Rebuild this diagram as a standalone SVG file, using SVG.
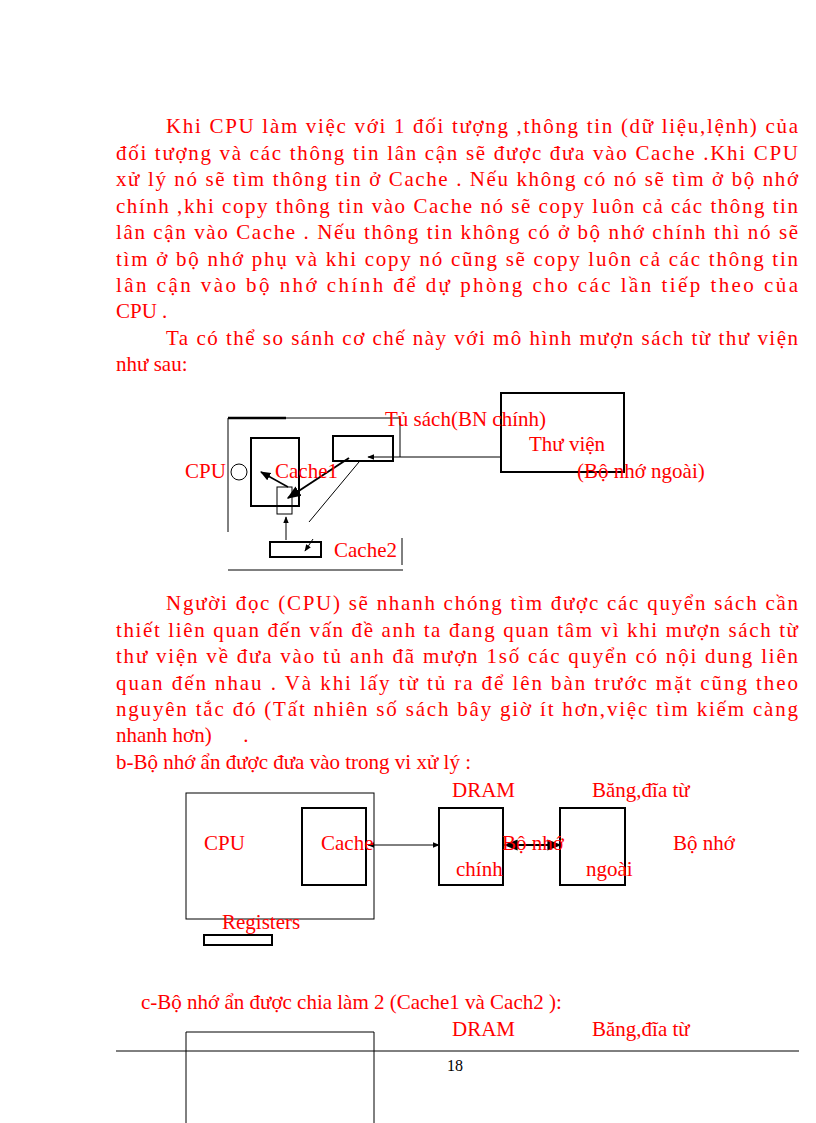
<svg xmlns="http://www.w3.org/2000/svg" width="816" height="1123" viewBox="0 0 816 1123">
<style>
text{font-family:"Liberation Serif","DejaVu Serif",serif;font-size:21px;fill:#f00}
.j{}
.b{fill:none;stroke:#000;stroke-width:2}
.t{fill:none;stroke:#000;stroke-width:1}
</style>
<defs><marker id="a" viewBox="0 0 10 10" refX="9" refY="5" markerWidth="7" markerHeight="7" orient="auto"><path d="M0,1L10,5L0,9z" fill="#000"/></marker>
<marker id="s" viewBox="0 0 10 10" refX="1" refY="5" markerWidth="7" markerHeight="7" orient="auto"><path d="M10,1L0,5L10,9z" fill="#000"/></marker></defs>
<g id="para1">
<text x="166" y="133" textLength="632" lengthAdjust="spacing">Khi CPU làm việc với 1 đối tượng ,thông tin (dữ liệu,lệnh) của</text>
<text x="116" y="160" textLength="682" lengthAdjust="spacing">đối tượng và các  thông tin lân cận sẽ được đưa vào Cache .Khi CPU</text>
<text x="116" y="186" textLength="682" lengthAdjust="spacing">xử lý nó sẽ tìm thông tin ở  Cache . Nếu không có nó sẽ tìm ở bộ nhớ</text>
<text x="116" y="213" textLength="682" lengthAdjust="spacing">chính ,khi copy thông tin vào Cache nó sẽ copy luôn cả các thông tin</text>
<text x="116" y="239" textLength="682" lengthAdjust="spacing">lân cận vào Cache . Nếu thông tin không có ở bộ nhớ chính thì nó sẽ</text>
<text x="116" y="266" textLength="682" lengthAdjust="spacing">tìm ở bộ nhớ phụ và khi copy nó cũng sẽ copy luôn cả các thông tin</text>
<text x="116" y="292" textLength="682" lengthAdjust="spacing">lân  cận vào bộ nhớ chính để dự phòng cho các lần tiếp theo của</text>
<text x="116" y="318">CPU .</text>
<text x="166" y="345" textLength="632" lengthAdjust="spacing">Ta có thể so sánh cơ chế này với mô hình mượn sách từ thư viện</text>
<text x="116" y="371">như sau:</text>
</g>
<g id="diagram1">
<g id="frame"><path class="t" d="M228,418H400V457M228,418V532M228,570H403M402,538V565"/><path d="M228,418H286" stroke="#000" stroke-width="2.5"/></g>
<rect id="cpu1" class="b" x="251" y="438" width="48" height="68"/>
<ellipse id="circle" class="t" cx="239" cy="472" rx="8" ry="8" stroke-width="1.5"/>
<rect id="cache1" class="t" x="277" y="487" width="15" height="27"/>
<rect id="tusach" class="b" x="333" y="436" width="60" height="25"/>
<rect id="thuvien" class="b" x="501" y="393" width="123" height="79"/>
<rect id="cache2" class="b" x="270" y="542" width="51" height="15"/>
<g id="connectors1">
<line class="t" x1="501" y1="457" x2="368" y2="457" marker-end="url(#a)"/>
<line x1="349" y1="458" x2="288" y2="498" stroke="#000" stroke-width="2" marker-end="url(#a)"/>
<line x1="288" y1="487" x2="261" y2="472" stroke="#000" stroke-width="1.5" marker-end="url(#a)"/>
<line class="t" x1="359" y1="462" x2="309" y2="522"/>
<line class="t" x1="286" y1="540" x2="286" y2="517" marker-end="url(#a)"/>
<line class="t" x1="313" y1="539" x2="305" y2="551" marker-end="url(#a)"/>
</g>
<text x="385" y="426">Tủ sách(BN chính)</text>
<text x="529" y="451">Thư viện</text>
<text x="185" y="478">CPU</text>
<text x="275" y="478">Cache1</text>
<text x="577" y="478">(Bộ nhớ ngoài)</text>
<text x="334" y="557">Cache2</text>
</g>
<g id="para2">
<text x="166" y="610" textLength="632" lengthAdjust="spacing">Người đọc (CPU) sẽ nhanh chóng tìm được các quyển sách cần</text>
<text x="116" y="637" textLength="682" lengthAdjust="spacing">thiết liên quan đến vấn đề  anh ta đang quan tâm vì khi mượn sách từ</text>
<text x="116" y="663" textLength="682" lengthAdjust="spacing">thư viện về đưa vào tủ anh đã mượn 1số các quyển có nội dung liên</text>
<text x="116" y="690" textLength="682" lengthAdjust="spacing">quan đến nhau . Và khi lấy từ tủ ra để lên bàn trước mặt cũng theo</text>
<text x="116" y="716" textLength="682" lengthAdjust="spacing">nguyên tắc đó (Tất nhiên số sách bây giờ ít hơn,việc tìm kiếm  càng</text>
<text x="116" y="742" xml:space="preserve">nhanh hơn)      .</text>
<text x="116" y="769">b-Bộ nhớ ẩn được đưa vào trong vi xử lý :</text>
</g>
<g id="diagram2">
<rect id="cpu2" class="t" x="186" y="793" width="188" height="126" stroke-width="1.5"/>
<rect id="cache" class="b" x="302" y="808" width="64" height="77"/>
<rect id="dram" class="b" x="439" y="808" width="64" height="77"/>
<rect id="ext" class="b" x="560" y="808" width="65" height="77"/>
<rect id="registers" class="b" x="204" y="935" width="68" height="10"/>
<g id="connectors2">
<line class="t" x1="368" y1="845" x2="439" y2="845" marker-start="url(#s)" marker-end="url(#a)"/>
<line x1="505" y1="845" x2="560" y2="845" stroke="#000" stroke-width="2" marker-start="url(#s)" marker-end="url(#a)"/>
</g>
<text x="452" y="797">DRAM</text>
<text x="592" y="797">Băng,đĩa từ</text>
<text x="204" y="850">CPU</text>
<text x="321" y="850">Cache</text>
<text x="502" y="850">Bộ nhớ</text>
<text x="673" y="850">Bộ nhớ</text>
<text x="456" y="876">chính</text>
<text x="586" y="876">ngoài</text>
<text x="222" y="929">Registers</text>
</g>
<g id="partc">
<text x="141" y="1009">c-Bộ nhớ ẩn được chia làm 2 (Cache1 và Cach2 ):</text>
<text x="452" y="1036">DRAM</text>
<text x="592" y="1036">Băng,đĩa từ</text>
<path class="t" d="M186,1123V1032H374V1123" stroke-width="1.5"/>
<line x1="116" y1="1051" x2="799" y2="1051" stroke="#000" stroke-width="1"/>
<text x="447" y="1071" style="fill:#000;font-size:16px">18</text>
</g>
</svg>
